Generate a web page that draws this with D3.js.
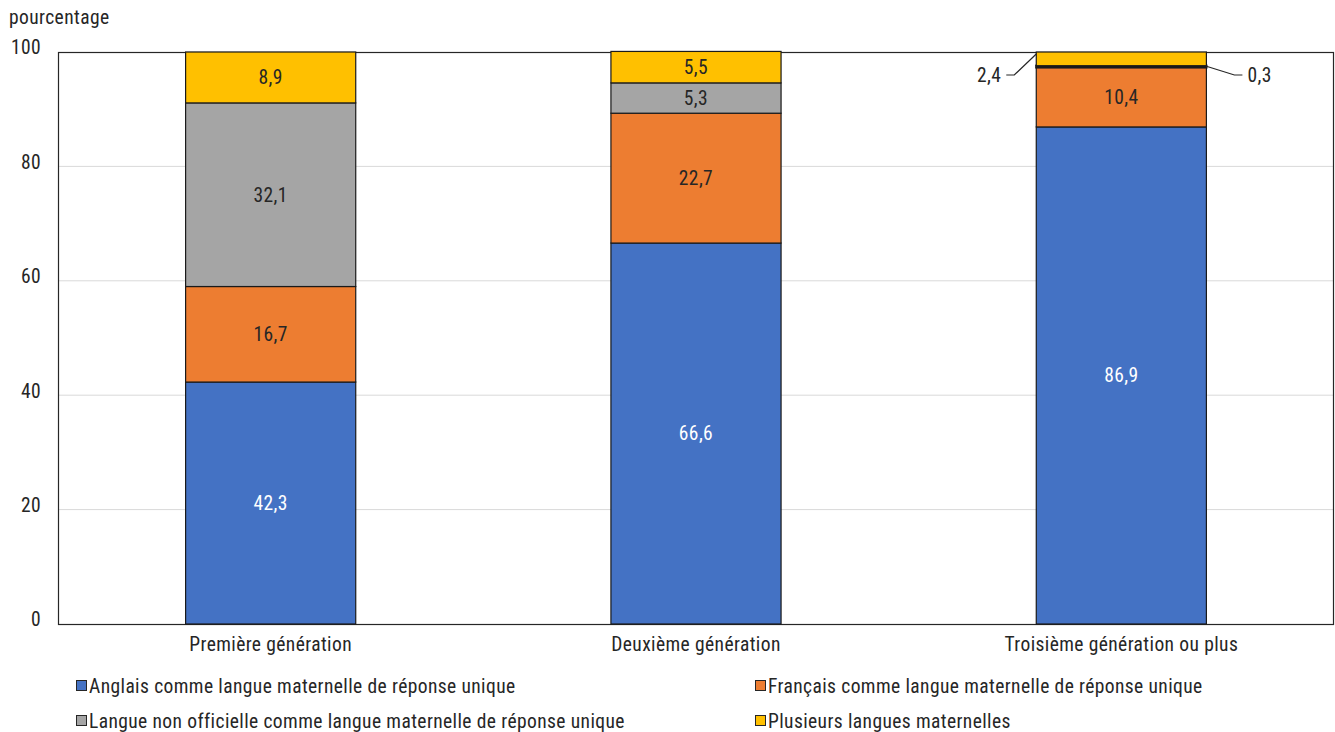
<!DOCTYPE html>
<html><head><meta charset="utf-8">
<script src="https://cdn.jsdelivr.net/npm/d3@7"></script>
<style>body{margin:0;background:#fff}svg{display:block}text{font-family:"Roboto Condensed","Liberation Sans Narrow","Arial Narrow",Roboto,sans-serif;fill:#262626;letter-spacing:0.4px}</style>
</head><body>
<svg id="c" width="1335" height="732"></svg>
<script>
const categories = ["Première génération","Deuxième génération","Troisième génération ou plus"];
const seriesNames = ["Anglais comme langue maternelle de réponse unique","Français comme langue maternelle de réponse unique","Langue non officielle comme langue maternelle de réponse unique","Plusieurs langues maternelles"];
const anglais = [42.3, 66.6, 86.9];
const francais = [16.7, 22.7, 10.4];
const nonOfficielle = [32.1, 5.3, 0.3];
const plusieurs = [8.9, 5.5, 2.4];
const colors = ["#4472C4","#ED7D31","#A5A5A5","#FFC000"];
const yTicks = [0,20,40,60,80,100];

const FS = "19.5px";
const svg = d3.select("#c");
const m = {l:58, r:1334, t:52, b:624};
const x = d3.scaleBand().domain(categories).range([m.l, m.r]).paddingInner(0.6).paddingOuter(0.3);
const y = d3.scaleLinear().domain([0,100]).range([m.b, m.t]);
const values = [anglais, francais, nonOfficielle, plusieurs];

// gridlines
svg.append("g").selectAll("line").data(yTicks.filter(d=>d>0 && d<100)).join("line")
  .attr("x1", m.l).attr("x2", m.r).attr("y1", d=>y(d)).attr("y2", d=>y(d))
  .attr("stroke", "#d9d9d9").attr("stroke-width", 1);

// frame
svg.append("rect").attr("x", m.l+0.5).attr("y", y(100)+0.5).attr("width", m.r-m.l-1).attr("height", y(0)-y(100))
  .attr("fill","none").attr("stroke","#262626").attr("stroke-width",1.2);

// y axis
const yAxis = svg.append("g").attr("transform",`translate(${m.l},0)`)
  .call(d3.axisLeft(y).tickValues(yTicks).tickSize(0).tickPadding(17));
yAxis.select(".domain").remove();
yAxis.selectAll("text").style("font-size",FS).attr("fill","#262626").attr("dy","0.1em");

svg.append("text").attr("x", 9).attr("y", 24).style("font-size",FS).text("pourcentage");

// x axis labels
const xAxis = svg.append("g").attr("transform",`translate(0,${m.b})`)
  .call(d3.axisBottom(x).tickSize(0).tickPadding(13));
xAxis.select(".domain").remove();
xAxis.selectAll("text").style("font-size",FS).attr("fill","#262626");

// stacks
const stackData = categories.map((c,i)=>{
  let cum = 0;
  return values.map((s,j)=>{ const o = {cat:c, j, v:s[i], y0:cum, y1:cum+s[i]}; cum += s[i]; return o; });
});
const segs = stackData.flat();
svg.append("g").selectAll("rect").data(segs).join("rect")
  .attr("x", d=>x(d.cat)).attr("width", x.bandwidth())
  .attr("y", d=>y(d.y1)).attr("height", d=>y(d.y0)-y(d.y1))
  .attr("fill", d=>colors[d.j]).attr("stroke","#1a1a1a")
  .attr("stroke-width", d => (y(d.y0)-y(d.y1)) < 4 ? 2.2 : 1.2);

// labels
const fmt = v => String(v).replace(".", ",");
segs.forEach(d=>{
  const cx = x(d.cat) + x.bandwidth()/2;
  const cy = (y(d.y0)+y(d.y1))/2;
  if (d.cat === categories[2] && d.j >= 2) {
    const right = d.j === 2;
    const bx = right ? x(d.cat)+x.bandwidth() : x(d.cat);
    const sy = right ? y(d.y1)+0.5 : y(100)+2;
    const ex = right ? bx+28 : bx-22;
    const ey = 75;
    svg.append("path").attr("d", right ?
        `M${bx},${sy} L${ex},${ey} L${ex+8},${ey}` :
        `M${bx},${sy} L${ex},${ey} L${ex-8},${ey}`)
      .attr("fill","none").attr("stroke","#262626").attr("stroke-width",1.2);
    svg.append("text").attr("x", right ? ex+13 : ex-13).attr("y", ey).attr("dy","0.35em")
      .attr("text-anchor", right ? "start" : "end").style("font-size",FS).text(fmt(d.v));
    return;
  }
  svg.append("text").attr("x", cx).attr("y", cy).attr("dy","0.35em").attr("text-anchor","middle")
    .style("font-size",FS).style("fill", d.j===0 ? "#fff" : "#262626").text(fmt(d.v));
});

// legend
const legPos = [[76,686],[755,686],[76,721],[755,721]];
seriesNames.forEach((n,i)=>{
  const [lx,ly] = legPos[i];
  svg.append("rect").attr("x", lx+0.5).attr("y", ly-5.5).attr("width",10).attr("height",10)
    .attr("fill", colors[i]).attr("stroke","#262626").attr("stroke-width",1);
  svg.append("text").attr("x", lx+13).attr("y", ly).attr("dy","0.35em").style("font-size",FS).text(n);
});
</script>
</body></html>
